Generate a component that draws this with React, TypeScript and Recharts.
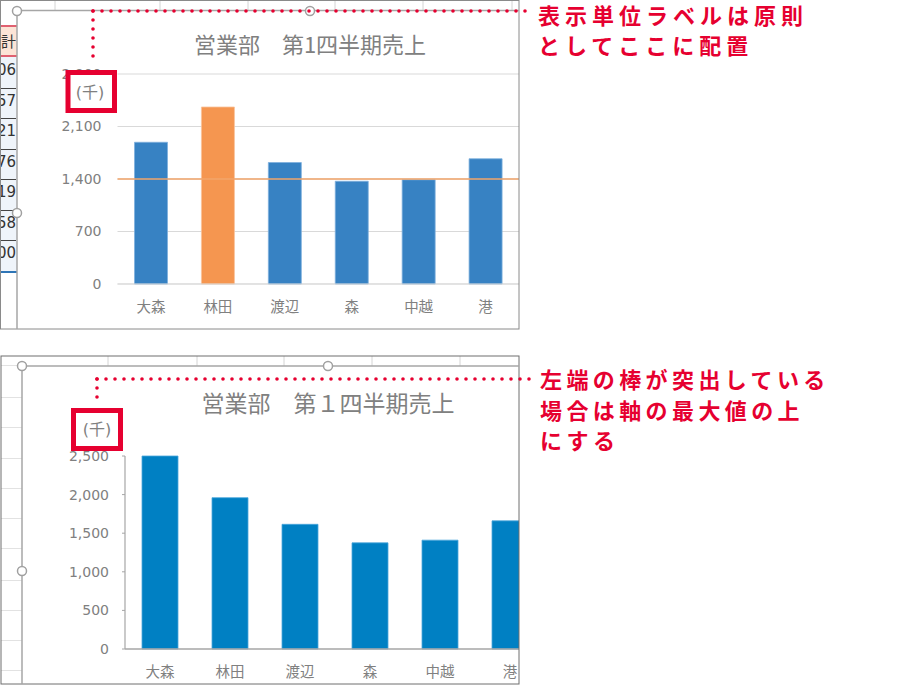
import React from 'react'
import { BarChart, Bar, XAxis, YAxis, CartesianGrid, ReferenceLine, Cell } from 'recharts'

const categories = ['大森', '林田', '渡辺', '森', '中越', '港']
const topSales = [1890, 2360, 1620, 1370, 1390, 1670]
const bottomSales = [2500, 1960, 1615, 1375, 1410, 1660]
const topTicks = [0, 700, 1400, 2100, 2800]
const bottomTicks = [0, 500, 1000, 1500, 2000, 2500]
const targetValue = 1400
const highlighted = '林田'
const sheetTotals = ['06', '57', '21', '76', '19', '58', '00']

const topTitle = '営業部　第1四半期売上'
const bottomTitle = '営業部　第１四半期売上'
const unitLabel = '(千)'
const noteTop = ['表示単位ラベルは原則', 'としてここに配置']
const noteBottom = ['左端の棒が突出している', '場合は軸の最大値の上', 'にする']

const topData = categories.map((name, i) => ({ name, value: topSales[i] }))
const bottomData = categories.map((name, i) => ({ name, value: bottomSales[i] }))

const FONT = '"DejaVu Sans", "Noto Sans CJK JP", sans-serif'
const GRAY = '#808080'
const RED = '#E60030'

const fmt = (v: number) => v.toLocaleString('en-US')

function CategoryTick(props: any) {
  const { x, y, payload } = props
  return (
    <text x={x} y={y + 23} textAnchor="middle" dominantBaseline="central"
      fill={GRAY} fontSize={14.5} fontFamily={FONT}>
      {payload.value}
    </text>
  )
}

function Handle({ x, y }: { x: number; y: number }) {
  return <circle cx={x} cy={y} r={4.5} fill="#fff" stroke="#A0A0A0" strokeWidth={1.5} />
}

function Dots({ x1, y1, x2, y2 }: { x1: number; y1: number; x2: number; y2: number }) {
  return (
    <line x1={x1} y1={y1} x2={x2} y2={y2} stroke={RED} strokeWidth={3.6}
      strokeDasharray="0 9" strokeLinecap="round" />
  )
}

export default function App() {
  const tickStyle = { fill: GRAY, fontSize: 14, fontFamily: FONT }
  return (
    <div style={{ position: 'relative', width: 911, height: 685, background: '#fff', overflow: 'hidden', fontFamily: FONT }}>
      <style>{'body{margin:0}'}</style>

      {/* spreadsheet strip behind the first chart */}
      <div style={{ position: 'absolute', left: 0, top: 0, width: 17, height: 330, overflow: 'hidden' }}>
        <div style={{ position: 'absolute', left: 0, top: 25, width: 17, height: 32, background: '#FCE4D6',
          borderTop: '2px solid #E06070', borderBottom: '2px solid #E06070', boxSizing: 'border-box' }} />
        <div style={{ position: 'absolute', right: 1, top: 30, fontSize: 15, color: '#333', whiteSpace: 'nowrap' }}>合計</div>
        <div style={{ position: 'absolute', left: 0, top: 57, width: 17, height: 215, background: '#EFF4FA' }} />
        {sheetTotals.map((t, i) => (
          <React.Fragment key={t + i}>
            <div style={{ position: 'absolute', right: 1, top: 61 + i * 30.5, fontSize: 15, color: '#333', whiteSpace: 'nowrap' }}>{t}</div>
            {i < 6 && <div style={{ position: 'absolute', left: 0, top: 88 + i * 30.4, width: 16, height: 1, background: '#444' }} />}
          </React.Fragment>
        ))}
        <div style={{ position: 'absolute', left: 0, top: 271, width: 17, height: 2, background: '#2E75B6' }} />
      </div>

      {/* first chart */}
      <div style={{ position: 'absolute', left: 17, top: 10, width: 502, height: 319, background: '#fff' }}>
        <BarChart width={502} height={319} data={topData} margin={{ top: 64, right: 0, left: 0, bottom: 0 }}>
          <CartesianGrid vertical={false} stroke="#D9D9D9" />
          <XAxis dataKey="name" height={45} axisLine={{ stroke: '#D9D9D9' }} tickLine={false}
            tickSize={0} tickMargin={0} tick={<CategoryTick />} interval={0} />
          <YAxis width={100.5} domain={[0, 2800]} ticks={topTicks} axisLine={false} tickLine={false}
            tickSize={0} tickMargin={16} tick={tickStyle} tickFormatter={fmt} />
          <Bar dataKey="value" barSize={33} isAnimationActive={false} stroke="#7FB0DD" strokeWidth={0.8}>
            {topData.map((d) => (
              <Cell key={d.name} fill={d.name === highlighted ? '#F59650' : '#3782C3'}
                stroke={d.name === highlighted ? '#F9C29A' : '#7FB0DD'} />
            ))}
          </Bar>
          <ReferenceLine y={targetValue} stroke="#F2A46A" strokeWidth={1.5} ifOverflow="extendDomain" />
        </BarChart>
        <div style={{ position: 'absolute', left: 293, top: 17, transform: 'translateX(-50%)', whiteSpace: 'nowrap',
          fontSize: 22, color: GRAY, fontFamily: '"Noto Sans CJK JP", sans-serif' }}>{topTitle}</div>
      </div>

      {/* spreadsheet strip behind the second chart */}
      {[365, 397, 427, 458, 488, 518, 548, 580, 610, 640, 670].map((y) => (
        <div key={y} style={{ position: 'absolute', left: 1, top: y, width: 21, height: 1, background: '#E2E2E2' }} />
      ))}

      {/* second chart, cut at the right edge */}
      <div style={{ position: 'absolute', left: 22, top: 366, width: 497, height: 318, overflow: 'hidden', background: '#fff' }}>
        <BarChart width={524} height={318} data={bottomData} margin={{ top: 90, right: 1, left: 0, bottom: 0 }}>
          <XAxis dataKey="name" height={35} axisLine={{ stroke: '#A6A6A6', strokeWidth: 1.5 }} tickLine={false}
            tickSize={0} tickMargin={0} tick={<CategoryTick />} interval={0} />
          <YAxis width={103} domain={[0, 2500]} ticks={bottomTicks} axisLine={{ stroke: '#A6A6A6', strokeWidth: 1.2 }}
            tickLine={{ stroke: '#A6A6A6' }} tickSize={3} tickMargin={13} tick={tickStyle} tickFormatter={fmt} />
          <Bar dataKey="value" barSize={36} fill="#0080C3" stroke="#4BA6DA" strokeWidth={0.8} isAnimationActive={false} />
        </BarChart>
        <div style={{ position: 'absolute', left: 306, top: 19, transform: 'translateX(-50%)', whiteSpace: 'nowrap',
          fontSize: 23, color: GRAY, fontFamily: '"Noto Sans CJK JP", sans-serif' }}>{bottomTitle}</div>
      </div>

      {/* frames, handles, callouts */}
      <svg width={911} height={685} style={{ position: 'absolute', left: 0, top: 0 }}>
        {[55, 160, 248, 335, 423, 512].map((x) => (
          <line key={x} x1={x} y1={0} x2={x} y2={10} stroke="#D4D4D4" />
        ))}
        {[108, 197, 284, 372, 460].map((x) => (
          <line key={x} x1={x} y1={356} x2={x} y2={366} stroke="#D4D4D4" />
        ))}
        <rect x={0.5} y={0.5} width={518.5} height={328.5} fill="none" stroke="#8A8A8A" />
        <rect x={1} y={356} width={518} height={328} fill="none" stroke="#6E6E6E" />
        <line x1={17} y1={10.5} x2={519} y2={10.5} stroke="#A6A6A6" strokeWidth={1.5} />
        <line x1={17} y1={10.5} x2={17} y2={329} stroke="#A6A6A6" strokeWidth={1.5} />
        <line x1={22} y1={366} x2={519} y2={366} stroke="#A6A6A6" strokeWidth={1.5} />
        <line x1={22} y1={366} x2={22} y2={684} stroke="#A6A6A6" strokeWidth={1.5} />
        <Handle x={17} y={11} />
        <Handle x={310} y={11} />
        <Handle x={17} y={213} />
        <Handle x={22} y={366} />
        <Handle x={328} y={366} />
        <Handle x={22} y={571} />

        <Dots x1={93} y1={11} x2={533} y2={11} />
        <Dots x1={93} y1={11} x2={93} y2={64} />
        <Dots x1={97} y1={379} x2={531} y2={379} />
        <Dots x1={97} y1={379} x2={97} y2={406} />

        <rect x={68} y={72.5} width={46.5} height={38} fill="#fff" stroke={RED} strokeWidth={5} />
        <text x={90} y={92} textAnchor="middle" dominantBaseline="central" fontSize={16} fill={GRAY} fontFamily={FONT}>{unitLabel}</text>
        <rect x={73.5} y={410.5} width={47} height={38} fill="#fff" stroke={RED} strokeWidth={5} />
        <text x={97} y={429} textAnchor="middle" dominantBaseline="central" fontSize={16} fill={GRAY} fontFamily={FONT}>{unitLabel}</text>

        {noteTop.map((t, i) => (
          <text key={t} x={538} y={14 + i * 30} dominantBaseline="central" fontSize={22} fontWeight={700}
            letterSpacing={5} fill={RED} fontFamily='"Noto Sans CJK JP", sans-serif'>{t}</text>
        ))}
        {noteBottom.map((t, i) => (
          <text key={t} x={540} y={378 + i * 30.5} dominantBaseline="central" fontSize={22} fontWeight={700}
            letterSpacing={4.4} fill={RED} fontFamily='"Noto Sans CJK JP", sans-serif'>{t}</text>
        ))}
      </svg>
    </div>
  )
}
